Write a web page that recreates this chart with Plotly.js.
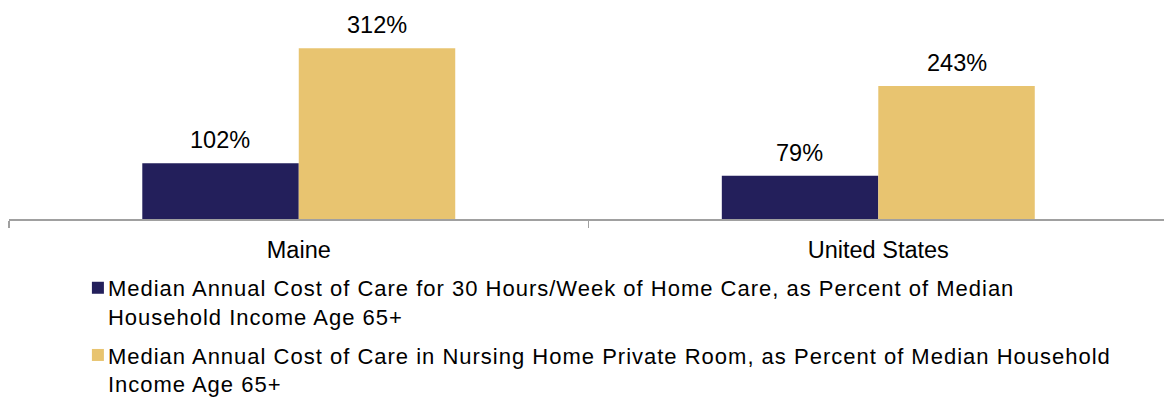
<!DOCTYPE html>
<html>
<head>
<meta charset="utf-8">
<script src="https://cdn.plot.ly/plotly-3.0.1.min.js"></script>
<style>
html,body{margin:0;padding:0;background:#fff;}
#chart{width:1164px;height:400px;}
.legend .legendsymbols{transform:translate(10px,0px);}
</style>
</head>
<body>
<div id="chart"></div>
<script>
const categories = ["Maine", "United States"];
const homeCare = [102, 79];
const nursingHome = [312, 243];
const seriesNames = [
  "Median Annual Cost of Care for 30 Hours/Week of Home Care, as Percent of Median<br>Household Income Age 65+",
  "Median Annual Cost of Care in Nursing Home Private Room, as Percent of Median Household<br>Income Age 65+"
];
const colors = ["#231f5b", "#e8c470"];

const FONT = "Liberation Sans, Arial, Helvetica, sans-serif";

function spaced(name) {
  return name.split("<br>").map(s => '<span style="letter-spacing:1px">' + s + '</span>').join("<br>");
}

const traces = [
  {type: "bar", x: categories, y: homeCare, name: spaced(seriesNames[0]), marker: {color: colors[0]}, legendgroup: "a", hoverinfo: "none"},
  {type: "bar", x: categories, y: nursingHome, name: spaced(seriesNames[1]), marker: {color: colors[1]}, legendgroup: "b", hoverinfo: "none"}
];

const annotations = [];
[homeCare, nursingHome].forEach((vals, si) => {
  vals.forEach((v, i) => {
    annotations.push({
      x: categories[i], y: v, xref: "x", yref: "y",
      text: v + "%", showarrow: false,
      xshift: si === 0 ? -78.5 : 78.5, yshift: 8,
      yanchor: "bottom", font: {family: FONT, size: 23.5, color: "#000"}
    });
  });
});

const layout = {
  width: 1164, height: 400,
  margin: {l: 9, r: 0, t: 0, b: 181, pad: 0, autoexpand: false},
  paper_bgcolor: "#fff", plot_bgcolor: "#fff",
  barmode: "group", bargap: 0.46, bargroupgap: 0,
  font: {family: FONT, size: 22, color: "#000"},
  xaxis: {
    type: "category", range: [-0.5, 1.493], automargin: false,
    showline: true, linecolor: "#a0a0a0", linewidth: 1.5,
    ticks: "outside", tickson: "boundaries", ticklen: 7, tickcolor: "#a0a0a0", tickwidth: 1.5,
    ticklabelstandoff: 9,
    showgrid: false, zeroline: false,
    tickfont: {family: FONT, size: 23.5, color: "#000"}
  },
  yaxis: {range: [0, 400], visible: false, showgrid: false, zeroline: false, automargin: false},
  showlegend: true,
  legend: {
    orientation: "v", x: 0.051, xanchor: "left", y: -0.219, yanchor: "top",
    font: {family: FONT, size: 22, color: "#000"},
    tracegroupgap: 7, valign: "top", itemwidth: 30,
    bgcolor: "rgba(0,0,0,0)"
  },
  annotations: annotations
};

Plotly.newPlot("chart", traces, layout, {displayModeBar: false, staticPlot: true});
</script>
</body>
</html>
